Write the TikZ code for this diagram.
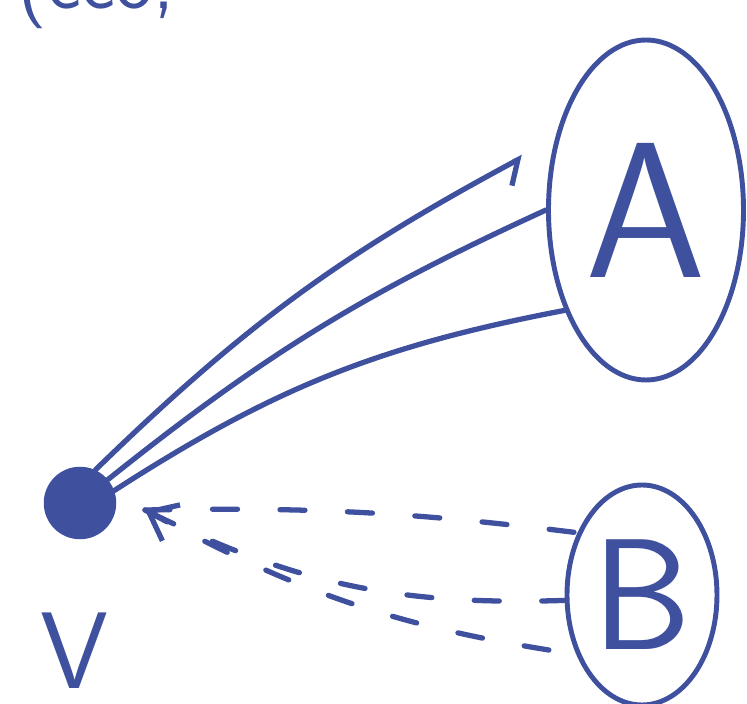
\documentclass[tikz,border=0pt]{standalone}
\usetikzlibrary{arrows.meta,shapes.geometric}
\definecolor{ink}{RGB}{62,80,158}

\begin{document}
\begin{tikzpicture}[
    inkline/.style={draw=ink, line width=3pt, line cap=round},
    blob/.style={ellipse, draw=ink, line width=2.8pt, inner sep=0pt},
    hint/.style={inkline, dash pattern=on 0.5cm off 0.85cm},
    letter/.style={text=ink, font=\sffamily\fontsize{#1}{#1}\selectfont}
]
\useasboundingbox (0,0) rectangle (14.94,14.08);
\clip (0,0) rectangle (14.94,14.08);

% cut-off heading
\node[letter=46, anchor=base west, inner sep=0pt] (head) at (0.35,13.9) {(cco,};

% the vertex and the two sets
\node[circle, fill=ink, minimum size=1.45cm, inner sep=0pt] (v) at (1.6,4.02) {};
\node[letter=62, anchor=base, inner sep=0pt] (vlab) at (1.5,0.3) {V};
\node[blob, letter=110, minimum width=3.9cm, minimum height=6.8cm] (A) at (12.92,9.88) {A};
\node[blob, letter=90, minimum width=3.0cm, minimum height=4.4cm] (B) at (12.84,2.18) {B};

% solid edges towards A
\coordinate (atip) at (10.46,10.94);
\draw[inkline, -{Straight Barb[right,length=0.35cm,width=0.8cm]}] (v.65) to[bend left=8] (atip);
\draw[inkline] (v.40) to[bend left=7] (A.180);
\draw[inkline] (v.20) to[bend left=11] (A.231);

% dashed edges back from B
\coordinate (vtip) at (2.9,3.88);
\draw[hint] (vtip) to[bend left=4] (B.136);
\draw[hint, {Straight Barb[length=0.5cm,width=0.8cm]}-] (vtip) to[bend right=14] (B.184);
\draw[hint] (vtip) to[bend right=10] (B.222);
\end{tikzpicture}
\end{document}
